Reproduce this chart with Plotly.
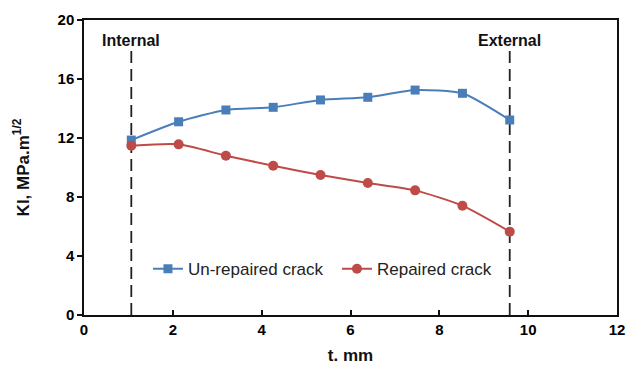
import plotly.graph_objects as go

# Crack depth positions through the wall thickness (mm)
t_mm = [1.065, 2.13, 3.195, 4.26, 5.325, 6.39, 7.455, 8.52, 9.585]
# Stress intensity factor KI (MPa.m^1/2)
ki_unrepaired = [11.86, 13.1, 13.9, 14.08, 14.58, 14.76, 15.25, 15.03, 13.22]
ki_repaired = [11.48, 11.57, 10.8, 10.12, 9.49, 8.95, 8.45, 7.41, 5.65]

x_ticks = [0, 2, 4, 6, 8, 10, 12]
y_ticks = [0, 4, 8, 12, 16, 20]

# Inner and outer wall surfaces
wall_x = [t_mm[0], t_mm[-1]]
wall_labels = ["Internal", "External"]
wall_top = 18
label_y = 18.6

blue = "#4A7EBB"
red = "#BE4B48"

fig = go.Figure()

for xv in wall_x:
    fig.add_trace(go.Scatter(
        x=[xv, xv], y=[0, wall_top], mode="lines",
        line=dict(color="#222222", width=1.8, dash="12px,6px"),
        showlegend=False, hoverinfo="skip"))

fig.add_trace(go.Scatter(
    x=t_mm, y=ki_unrepaired, mode="lines+markers", name="Un-repaired crack",
    line=dict(color=blue, width=2, shape="spline", smoothing=0.6),
    marker=dict(symbol="square", size=9, color=blue)))
fig.add_trace(go.Scatter(
    x=t_mm, y=ki_repaired, mode="lines+markers", name="Repaired crack",
    line=dict(color=red, width=2, shape="spline", smoothing=0.6),
    marker=dict(symbol="circle", size=10, color=red)))

for xv, lab in zip(wall_x, wall_labels):
    fig.add_annotation(x=xv, y=label_y, text=f"<b>{lab}</b>",
                       showarrow=False, yanchor="middle",
                       font=dict(family="Arial", size=16, color="#111111"))

tick_font = dict(size=15, family="Liberation Sans, Arial", color="#000000", weight="bold")

fig.update_layout(
    width=628, height=365,
    margin=dict(l=84, r=11, t=20, b=50, autoexpand=False),
    paper_bgcolor="white", plot_bgcolor="white",
    font=dict(family="Arial", color="#111111"),
    legend=dict(orientation="h", x=0.12, y=0.155, xanchor="left", yanchor="middle",
                bgcolor="rgba(0,0,0,0)", font=dict(size=17, color="#222222"),
                itemwidth=30, tracegroupgap=0, entrywidth=144, entrywidthmode="pixels"),
    xaxis=dict(range=[0, 12], tickvals=x_ticks, ticktext=[f"<b>{v}</b>" for v in x_ticks],
               ticks="inside", ticklen=5, tickwidth=1.5, tickcolor="#111111",
               showline=True, linecolor="#111111", linewidth=1.5, mirror=True,
               showgrid=False, zeroline=False, automargin=False,
               tickfont=tick_font,
               title=dict(text="<b>t. mm</b>", font=dict(size=17), standoff=12)),
    yaxis=dict(range=[0, 20], tickvals=y_ticks, ticktext=[f"<b>{v}</b>" for v in y_ticks],
               ticks="outside", ticklen=5, tickwidth=1.5, tickcolor="#111111",
               showline=True, linecolor="#111111", linewidth=1.5, mirror=True,
               showgrid=False, zeroline=False, automargin=False,
               tickfont=tick_font,
               title=dict(text="<b>KI, MPa.m<sup>1/2</sup></b>", font=dict(size=17), standoff=24)),
)

fig.write_html("out.html")
